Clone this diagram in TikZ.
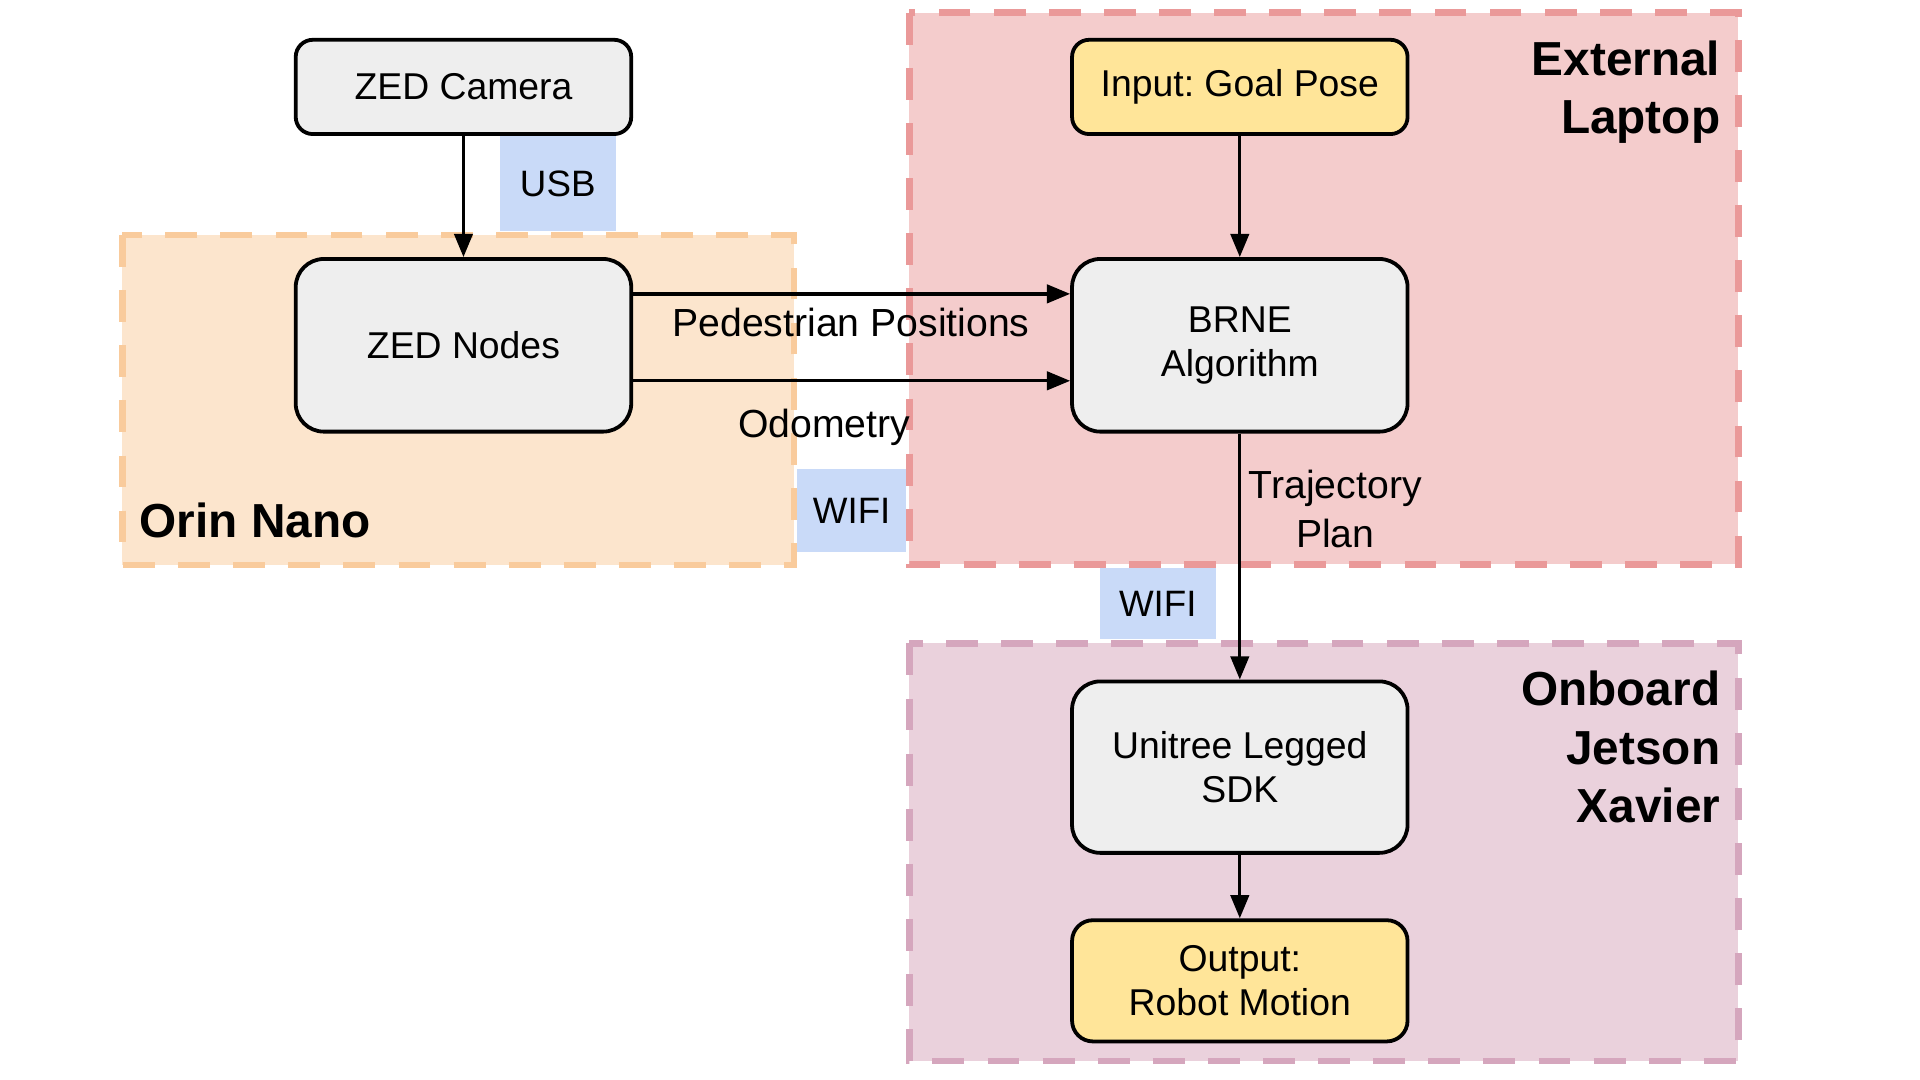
\documentclass[tikz,border=0pt]{standalone}
\usepackage{fontspec}
\setmainfont{Liberation Sans}
\usetikzlibrary{arrows.meta}
\definecolor{boxgray}{HTML}{EEEEEE}
\definecolor{boxyellow}{HTML}{FFE599}
\definecolor{tagblue}{HTML}{C9DAF8}
\definecolor{orinfill}{HTML}{FCE5CD}
\definecolor{orinline}{HTML}{F9CB9C}
\definecolor{lapfill}{HTML}{F4CCCC}
\definecolor{lapline}{HTML}{EA9999}
\definecolor{onbfill}{HTML}{EAD1DC}
\definecolor{onbline}{HTML}{D5A6BD}
\frenchspacing
\begin{document}
\begin{tikzpicture}[x=1pt,y=-1pt,
  box/.style={draw=black, line width=3.1pt, fill=boxgray, rounded corners=14pt,
    minimum width=274pt, minimum height=77pt, inner sep=0pt, align=center,
    font=\fontsize{30.5}{36}\selectfont},
  tallbox/.style={box, minimum height=141pt, rounded corners=23pt},
  arr/.style={draw=black, line width=2.7pt, -{Triangle[length=19pt,width=15pt]}},
  lbl/.style={inner sep=0pt, align=center, font=\fontsize{32}{39.5}\selectfont},
  tag/.style={fill=tagblue, inner sep=0pt, font=\fontsize{30}{36}\selectfont},
  ttl/.style={inner sep=0pt, align=right, font=\fontsize{39}{47.5}\selectfont\bfseries},
  region/.style={line width=5.5pt, dash pattern=on 26pt off 19pt}]
\useasboundingbox (0,0) rectangle (1568,882);
\fill[white] (0,0) rectangle (1568,882);

% connection tags
\node[tag, minimum width=95pt, minimum height=78pt] (usb) at (455.5,150) {USB};
\node[tag, minimum width=89pt, minimum height=68pt] (wifiA) at (695.5,417) {WIFI};
\node[tag, minimum width=95pt, minimum height=58pt] (wifiB) at (945.5,493) {WIFI};

% regions
\draw[region, draw=orinline, fill=orinfill] (100,192) rectangle (648.5,461.5);
\draw[region, draw=lapline, fill=lapfill] (742.5,10.5) rectangle (1419.5,461);
\draw[region, draw=onbline, fill=onbfill] (742.5,525.5) rectangle (1419.5,866.5);

% titles
\node[ttl, anchor=west] (orin) at (114,425) {Orin Nano};
\node[ttl, anchor=north east] (extl) at (1405,33) {External\\Laptop};
\node[ttl, anchor=north east] (onb) at (1405,548) {Onboard\\Jetson\\Xavier};

% boxes
\node[box] (cam) at (378.5,71) {ZED Camera};
\node[box, fill=boxyellow] (goal) at (1012.5,71) {Input: Goal Pose};
\node[tallbox] (zn) at (378.5,282) {ZED Nodes};
\node[tallbox] (brne) at (1012.5,282) {BRNE\\Algorithm};
\node[tallbox, minimum height=140pt] (sdk) at (1012.5,626.5) {Unitree Legged\\SDK};
\node[box, fill=boxyellow, minimum height=99pt, rounded corners=17pt] (out) at (1012.5,801) {Output:\\Robot Motion};

% connectors
\coordinate (yped) at (0,240);
\coordinate (yodo) at (0,311);
\draw[arr] (cam) -- (zn);
\draw[arr] (goal) -- (brne);
\draw[arr] (brne) -- (sdk);
\draw[arr] (sdk) -- (out);
\draw[arr] (zn.east |- yped) -- (brne.west |- yped);
\draw[arr] (zn.east |- yodo) -- (brne.west |- yodo);

% connector labels
\node[lbl, anchor=base] (ped) at (695,275) {Pedestrian Positions};
\node[lbl, anchor=base] (odo) at (673,357) {Odometry};
\node[lbl, anchor=north] (traj) at (1090.5,384) {Trajectory\\Plan};
\end{tikzpicture}
\end{document}
